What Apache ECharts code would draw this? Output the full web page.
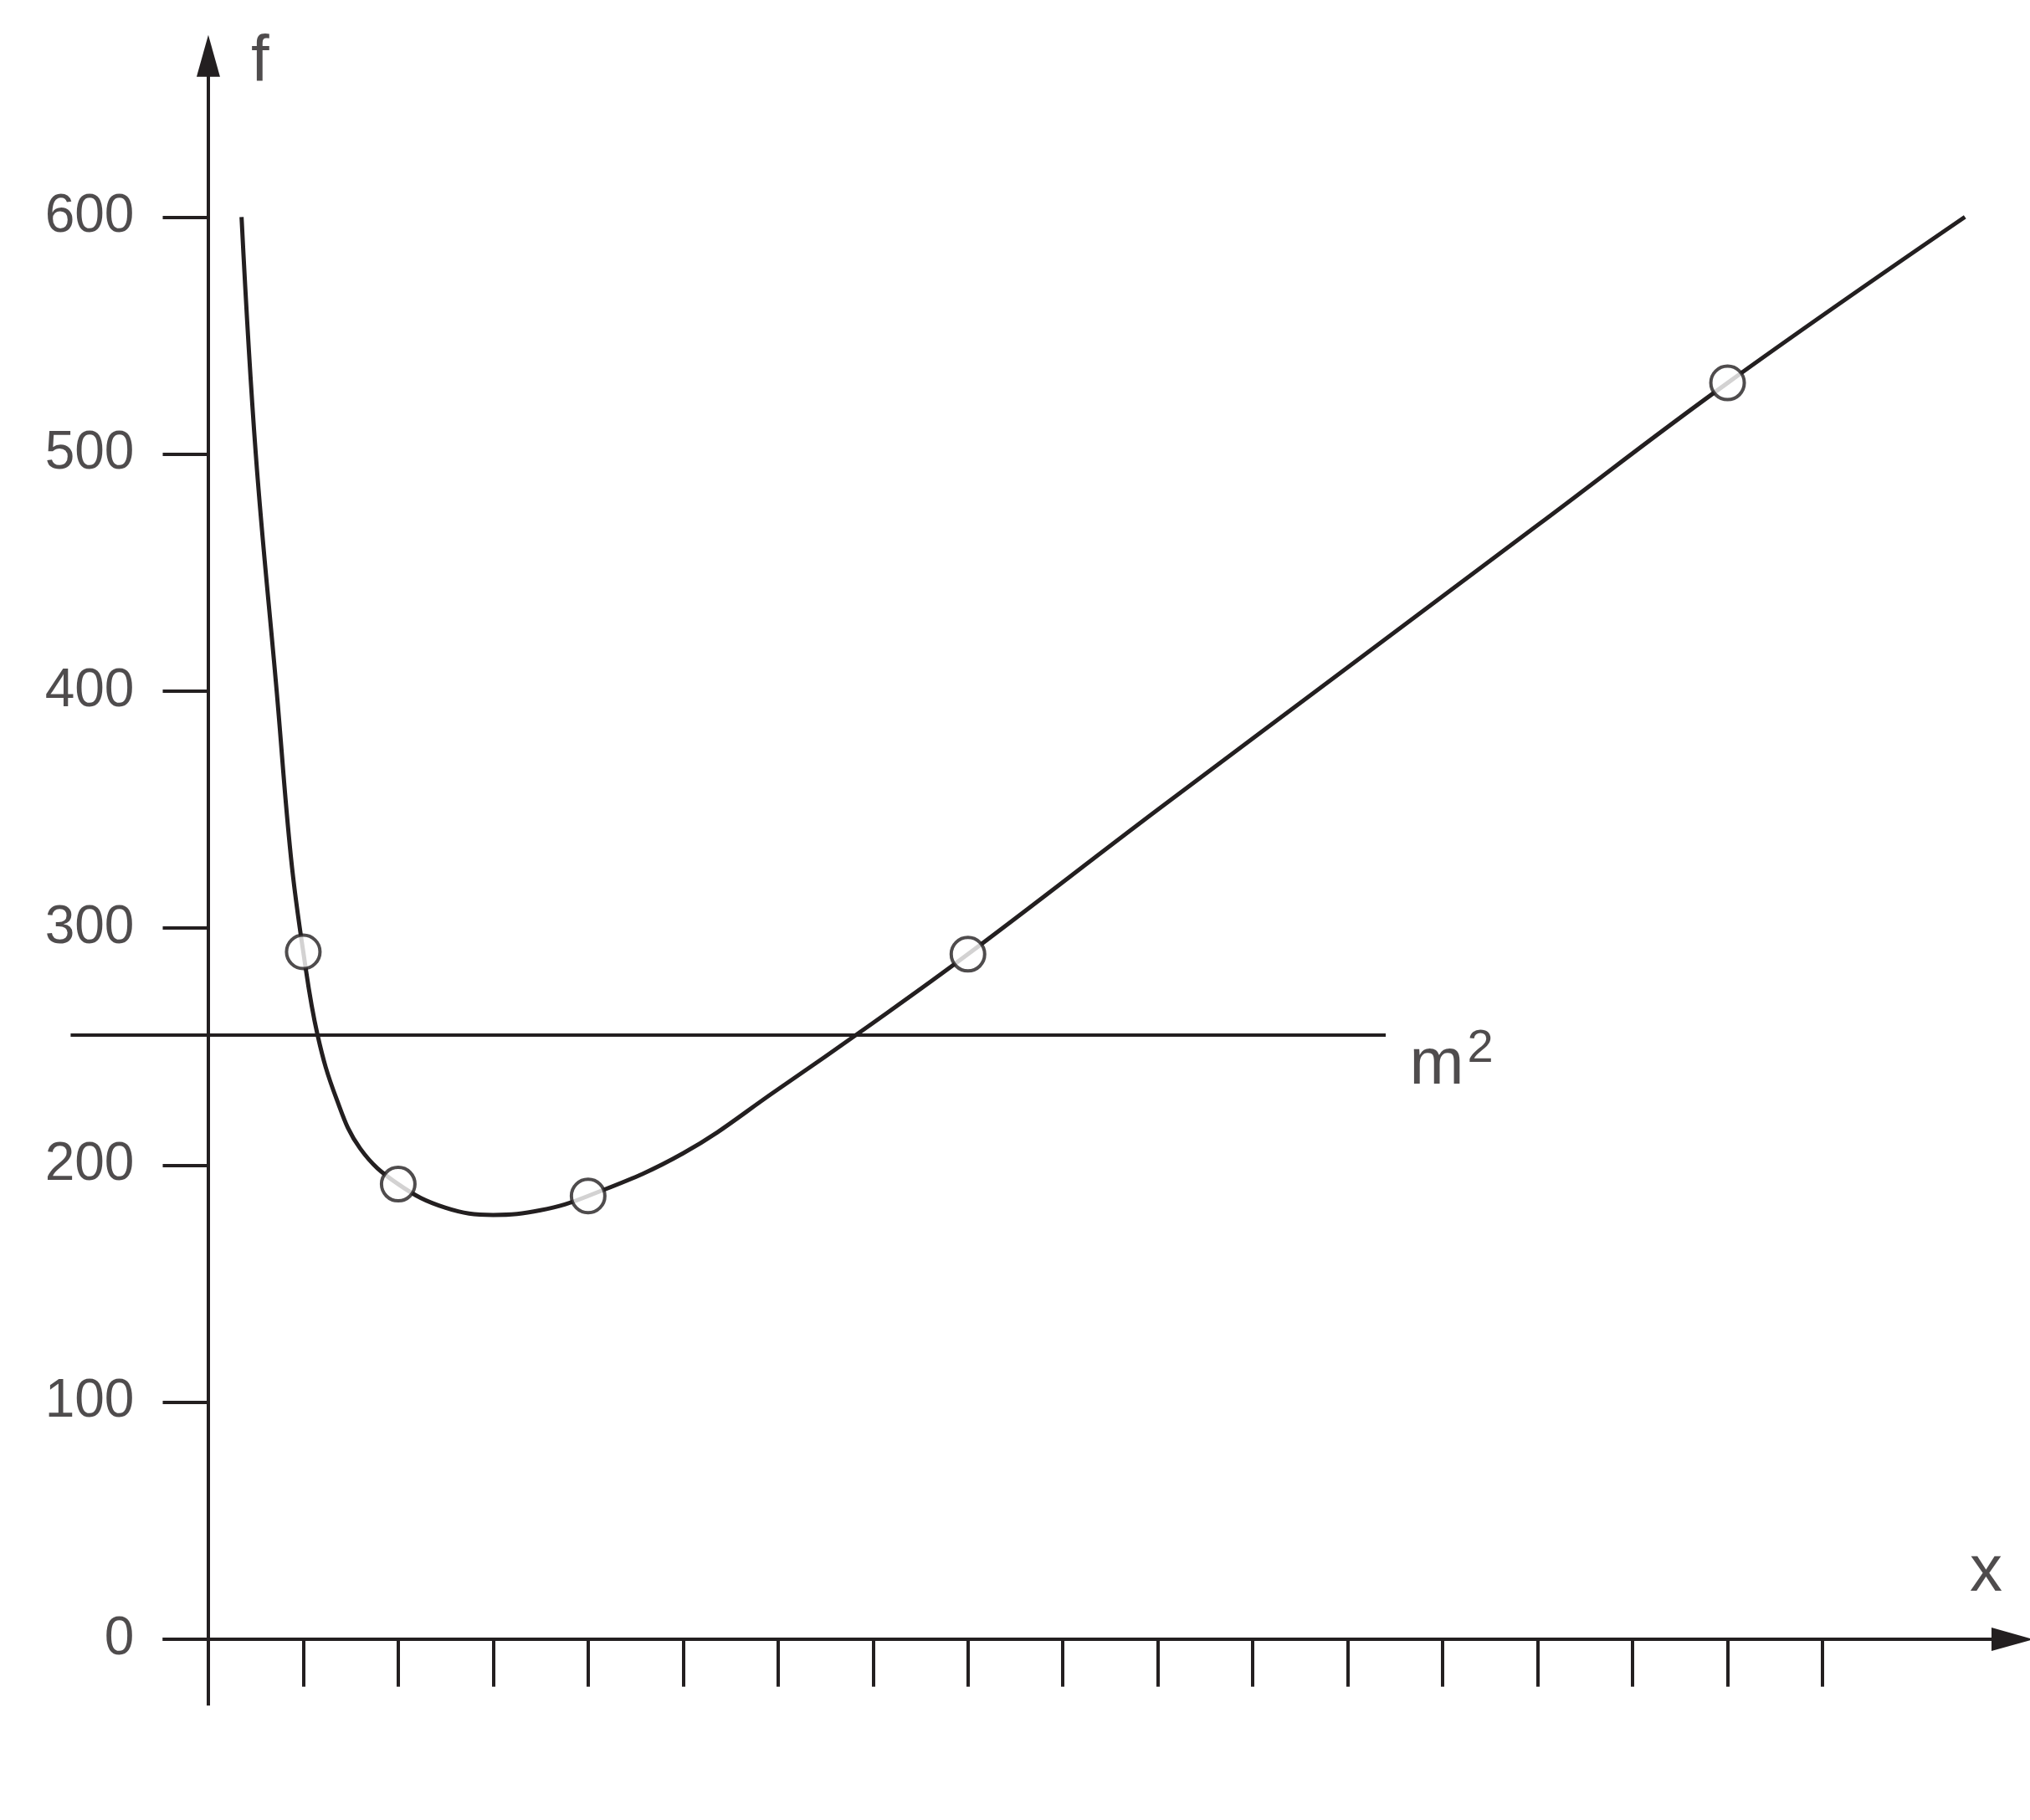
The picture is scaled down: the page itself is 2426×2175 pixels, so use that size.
<!DOCTYPE html>
<html><head><meta charset="utf-8">
<script src="https://cdn.jsdelivr.net/npm/echarts@6/dist/echarts.min.js"></script>
<style>html,body{margin:0;background:#fff}#c{width:2426px;height:2175px}</style>
</head><body><div id="c"></div>
<script>
const curveData = [[0.35,600],[0.5,500],[0.72,400],[0.87,330],[1,290],[1.15,255],[1.35,228],[1.6,207],[2,192],[2.5,182],[3,179],[3.5,181],[4,187],[5,205],[6,232],[7,260],[8,289],[10,350],[12,410],[14,470],[16,530],[18.5,600]];
const pointData = [[1,290],[2,192],[4,187],[8,289],[16,530]];
const m2Level = 255;
const m2Range = [-1.45, 12.4];
const xTickValues = [1,2,3,4,5,6,7,8,9,10,11,12,13,14,15,16,17];
const xLabelValues = [0,5,10,15];
const yLabelValues = [0,100,200,300,400,500,600];
const font = 'Liberation Sans, Arial, sans-serif';
const K = '#231f20';
const seg = (a,b)=>[{coord:a},{coord:b}];
const chart = echarts.init(document.getElementById('c'));
chart.setOption({
  animation:false,
  grid:{left:22,right:21,top:61,bottom:131},
  xAxis:{type:'value',min:-2,max:19,show:false},
  yAxis:{type:'value',min:-30,max:670,show:false},
  series:[
    {type:'line',data:[],silent:true,
     markLine:{silent:true,symbol:['none','none'],label:{show:false},
      lineStyle:{color:K,width:4,type:'solid'},
      data:[
        ...xTickValues.map(t=>seg([t,0],[t,-20])),
        ...yLabelValues.map(v=>seg([0,v],[-0.48,v])),
        seg([0,-28],[0,650]),
        seg([-0.48,0],[18.7,0]),
        seg([m2Range[0],m2Level],[m2Range[1],m2Level])
      ]}},
    {type:'line',data:[],silent:true,
     markLine:{silent:true,symbol:['none','triangle'],symbolSize:[28,50],label:{show:false},
      lineStyle:{color:K,width:4,type:'solid'},
      data:[seg([0,600],[0,668]),seg([18,0],[19.0,0])]}},
    {type:'line',data:curveData,smooth:0.4,showSymbol:false,lineStyle:{color:K,width:5},z:3},
    {type:'scatter',data:pointData,symbol:'circle',symbolSize:40,
     itemStyle:{color:'#fff',borderColor:K,borderWidth:4},z:5},
    {type:'scatter',symbolSize:0,data:yLabelValues.map(v=>[-0.78,v]),
     label:{show:true,position:'left',distance:0,formatter:p=>String(p.value[1]),fontSize:64,fontFamily:font,color:K}},
    {type:'scatter',symbolSize:0,data:xLabelValues.map(v=>[v,-47]),
     label:{show:true,position:'bottom',distance:0,formatter:p=>String(p.value[0]),fontSize:64,fontFamily:font,color:K}},
    {type:'scatter',symbolSize:0,data:[{value:[0.45,665],name:'f'},{value:[18.55,28],name:'x'}],
     label:{show:true,position:'right',distance:0,formatter:p=>p.name,fontSize:78,fontFamily:font,color:K}},
    {type:'scatter',symbolSize:0,data:[{value:[12.65,242],name:'m2'}],
     label:{show:true,position:'right',distance:0,formatter:'{a|m}{b|2}',
      rich:{a:{fontSize:78,fontFamily:font,color:K},b:{fontSize:56,fontFamily:font,color:K,verticalAlign:'top',padding:[0,0,40,4]}}}}
  ]
});
</script></body></html>
